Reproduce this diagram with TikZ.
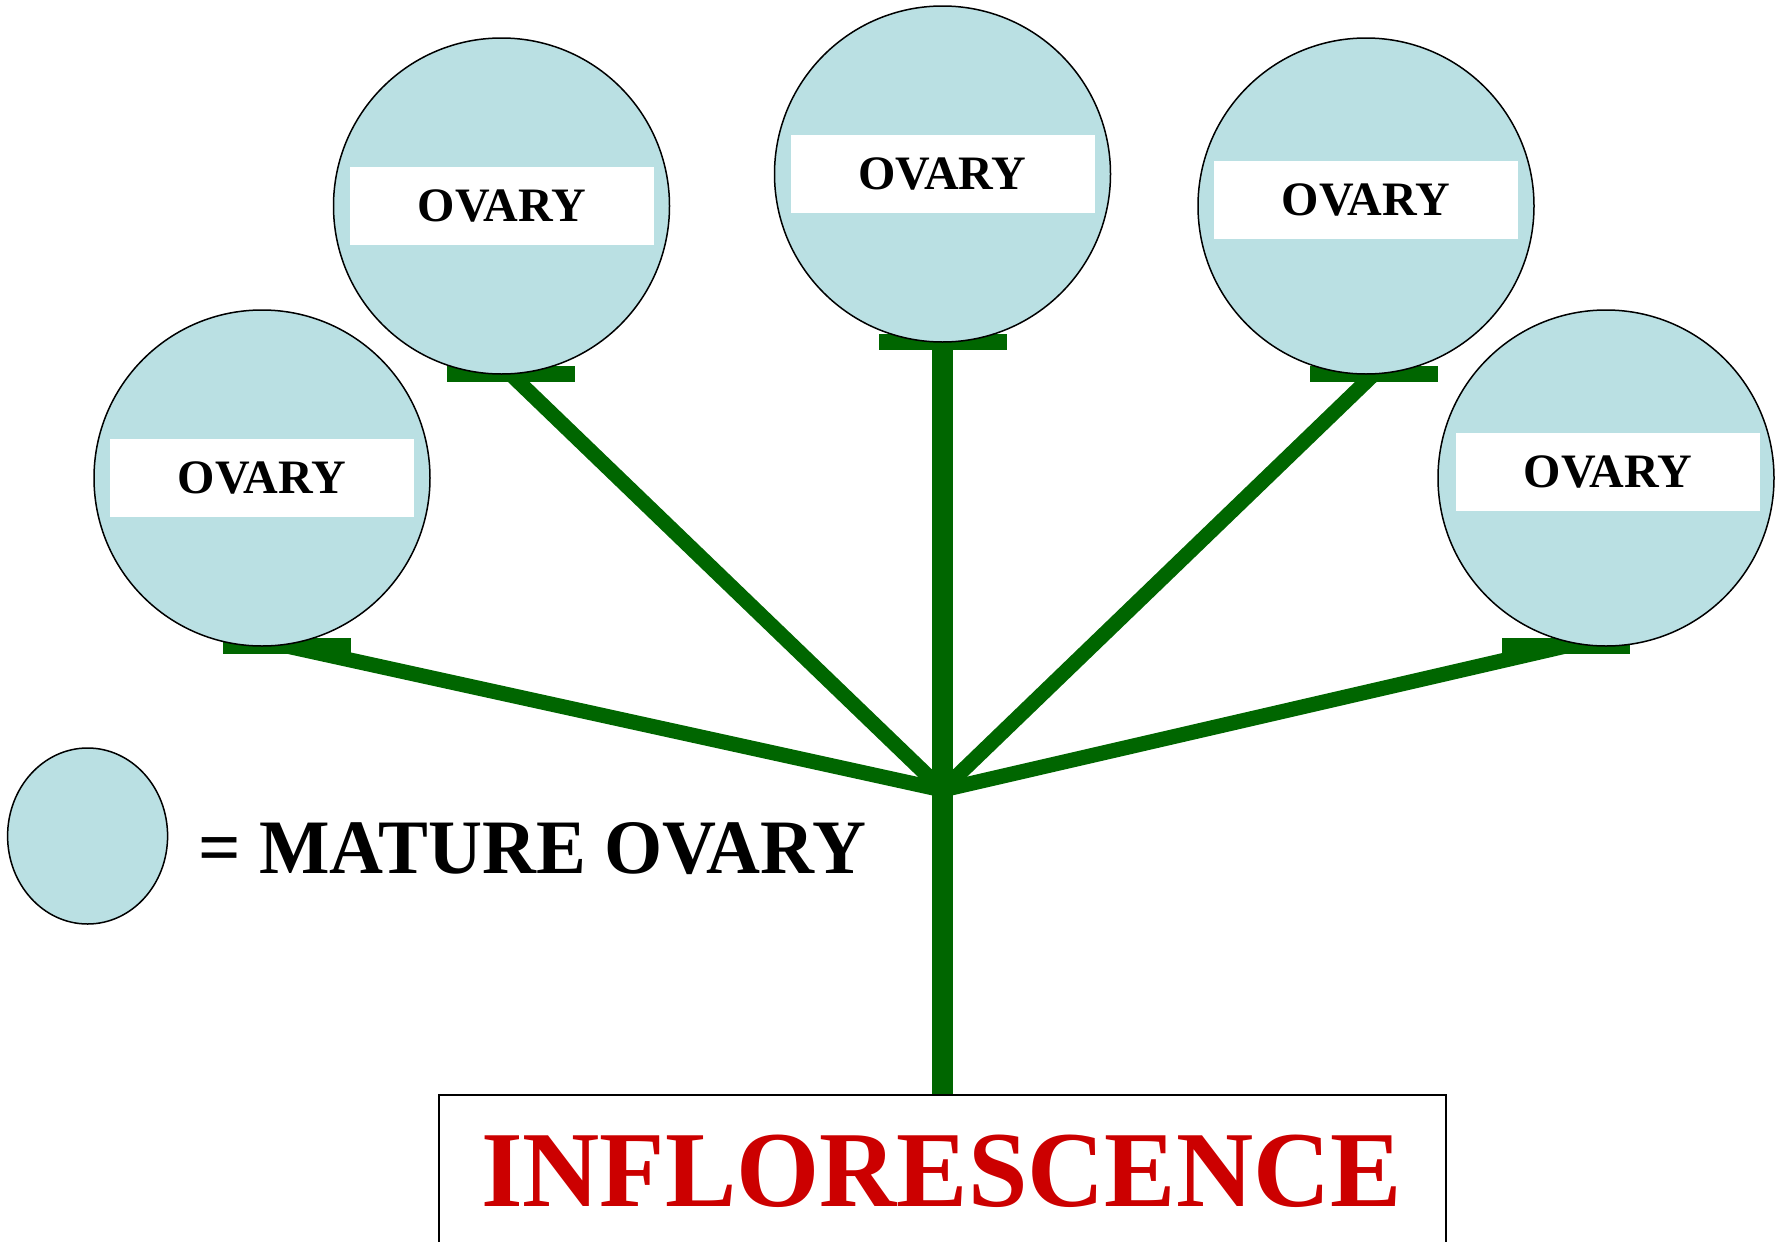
\documentclass[tikz,border=0pt]{standalone}
\usepackage{fontspec}
\setmainfont{Liberation Serif}
\usetikzlibrary{shapes.geometric}
\definecolor{ovblue}{HTML}{BAE0E3}
\definecolor{stemgreen}{HTML}{006600}
\definecolor{inflred}{HTML}{CC0000}
\pgfdeclarelayer{bg}
\pgfsetlayers{bg,main}
\tikzset{
  ovary/.style={circle, draw=black, line width=1.5pt, fill=ovblue, minimum size=336pt, inner sep=0pt},
  label/.style={rectangle, fill=white, minimum width=304pt, minimum height=78pt, inner sep=0pt, font=\fontsize{48}{50}\selectfont\bfseries},
  bar/.style={rectangle, fill=stemgreen, minimum width=128pt, minimum height=16pt, inner sep=0pt},
  branch/.style={draw=stemgreen, line width=15pt},
  trunk/.style={draw=stemgreen, line width=21pt},
}
\begin{document}
\begin{tikzpicture}[x=1pt,y=-1pt]
\useasboundingbox (0,0) rectangle (1783,1242);
\clip (0,0) rectangle (1783,1242);
% bars
\node[bar] (b1) at (286.5,646) {};
\node[bar] (b2) at (510.5,374) {};
\node[bar] (b3) at (942.5,342) {};
\node[bar] (b4) at (1374,374) {};
\node[bar] (b5) at (1566,646) {};
% circles
\node[ovary] (c1) at (262,478) {};
\node[ovary] (c2) at (501.5,206) {};
\node[ovary] (c3) at (942.5,174) {};
\node[ovary] (c4) at (1366,206) {};
\node[ovary] (c5) at (1606,478) {};
% labels
\node[label] (l1) at (262,478) {OVARY};
\node[label] (l2) at (502,206) {OVARY};
\node[label] (l3) at (942.5,174) {OVARY};
\node[label] (l4) at (1366,200) {OVARY};
\node[label] (l5) at (1608,471.5) {OVARY};
% junction and box
\coordinate (j) at (942.5,790);
\node[rectangle, draw=black, line width=1.5pt, minimum width=1007pt, minimum height=200pt, anchor=north, inner sep=0pt] (box) at (942.5,1094) {};
\node[anchor=base, inner sep=0pt, text=inflred, font=\fontsize{108}{110}\selectfont\bfseries] (infl) at (941.5,1206) {\scalebox{0.99}[1]{INFLORESCENCE}};
% legend
\node[ellipse, draw=black, line width=1.5pt, fill=ovblue, minimum width=160pt, minimum height=176pt, inner sep=0pt] (legend) at (87.6,836) {};
\node[anchor=base west, inner sep=0pt, font=\fontsize{77}{80}\selectfont\bfseries] (legtext) at (198,873) {\scalebox{0.97}[1]{= MATURE OVARY}};
% connectors
\begin{pgfonlayer}{bg}
\draw[branch] (b1.center) -- (j);
\draw[branch] (b2.center) -- (j);
\draw[branch] (b4.center) -- (j);
\draw[branch] (b5.center) -- (j);
\draw[trunk] (b3.center) -- (j);
\draw[trunk] (j) -- (box.north);
\end{pgfonlayer}
\end{tikzpicture}
\end{document}
